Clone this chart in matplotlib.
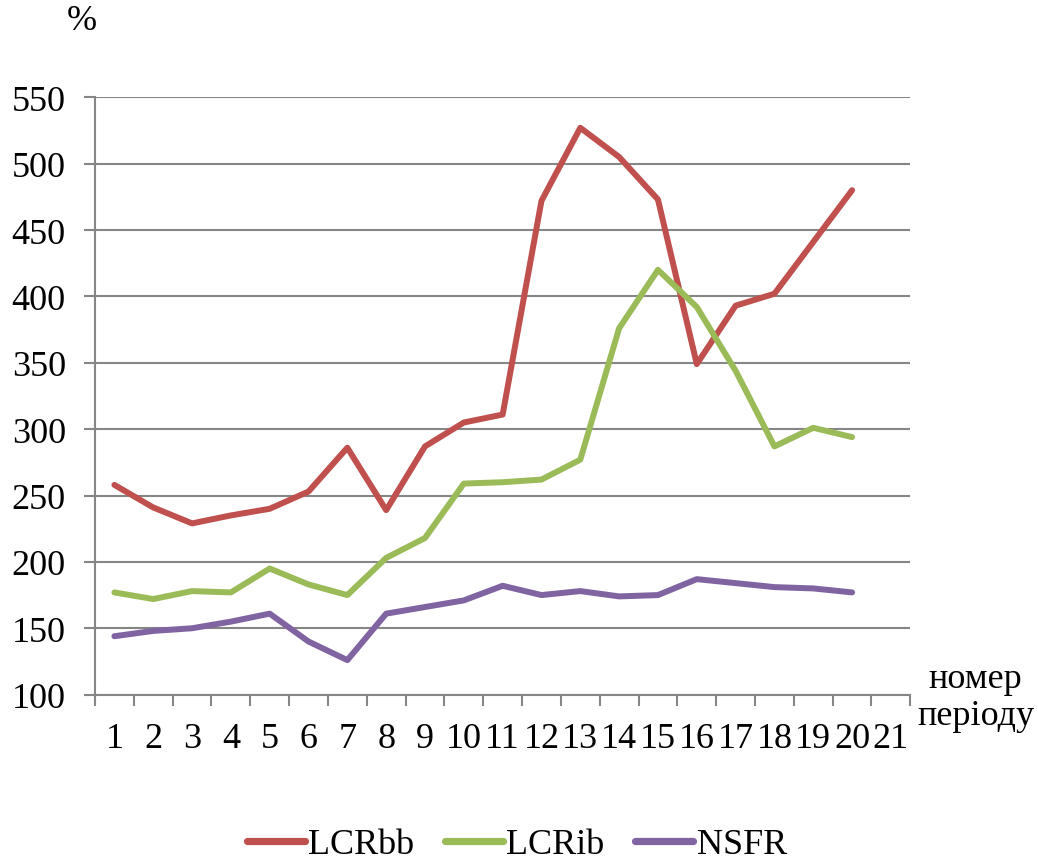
import matplotlib.pyplot as plt
import numpy as np

# дані
periods = list(range(1, 21))
lcr_bb = [258, 241, 229, 235, 240, 253, 286, 239, 287, 305, 311, 472, 527, 505, 473, 349, 393, 402, 441, 480]
lcr_ib = [177, 172, 178, 177, 195, 183, 175, 203, 218, 259, 260, 262, 277, 376, 420, 392, 344, 287, 301, 294]
nsfr = [144, 148, 150, 155, 161, 140, 126, 161, 166, 171, 182, 175, 178, 174, 175, 187, 184, 181, 180, 177]
x_labels = [str(i) for i in range(1, 22)]
y_ticks = [100, 150, 200, 250, 300, 350, 400, 450, 500, 550]

plt.rcParams['font.family'] = ['Liberation Serif', 'DejaVu Serif']

fig = plt.figure(figsize=(10.38, 8.62), dpi=100)
ax = fig.add_axes([0.0915, 0.193, 0.7855, 0.693])

grid_c = "#868686"
lw = 4.3
ax.plot(periods, lcr_bb, c="#C0504D", lw=lw, label="LCRbb", solid_joinstyle="round", solid_capstyle="round")
ax.plot(periods, lcr_ib, c="#9BBB59", lw=lw, label="LCRib", solid_joinstyle="round", solid_capstyle="round")
ax.plot(periods, nsfr, c="#8064A2", lw=lw, label="NSFR", solid_joinstyle="round", solid_capstyle="round")

ax.set_xlim(0.5, 21.5)
ax.set_ylim(100, 550)
ax.set_yticks(y_ticks)
ax.set_xticks(range(1, 22))
ax.set_xticklabels(x_labels)
ax.set_xticks(np.arange(0.5, 22, 1), minor=True)
ax.tick_params(axis="x", which="major", length=0, pad=20, labelsize=26)
ax.tick_params(axis="x", which="minor", length=8, width=1.5, color=grid_c, direction="out")
ax.tick_params(axis="y", length=8, width=1.5, color=grid_c, pad=13, labelsize=26)

ax.grid(axis="y", color=grid_c, lw=1.5)
ax.set_axisbelow(True)
for s in ["top", "right"]:
    ax.spines[s].set_visible(False)
for s in ["left", "bottom"]:
    ax.spines[s].set_color(grid_c)
    ax.spines[s].set_linewidth(1.5)

fig.text(0.079, 0.975, "%", fontsize=26, ha="center", va="center")
fig.text(0.94, 0.19, "номер\nперіоду", fontsize=26, ha="center", va="center", linespacing=1.15)

leg = fig.legend(loc="lower center", bbox_to_anchor=(0.498, -0.038), ncol=3, frameon=False,
                 fontsize=26, handlelength=1.6, handletextpad=0.1, columnspacing=0.85)
for h in leg.get_lines():
    h.set_linewidth(5.2)

fig.savefig("out.png", dpi=100)
